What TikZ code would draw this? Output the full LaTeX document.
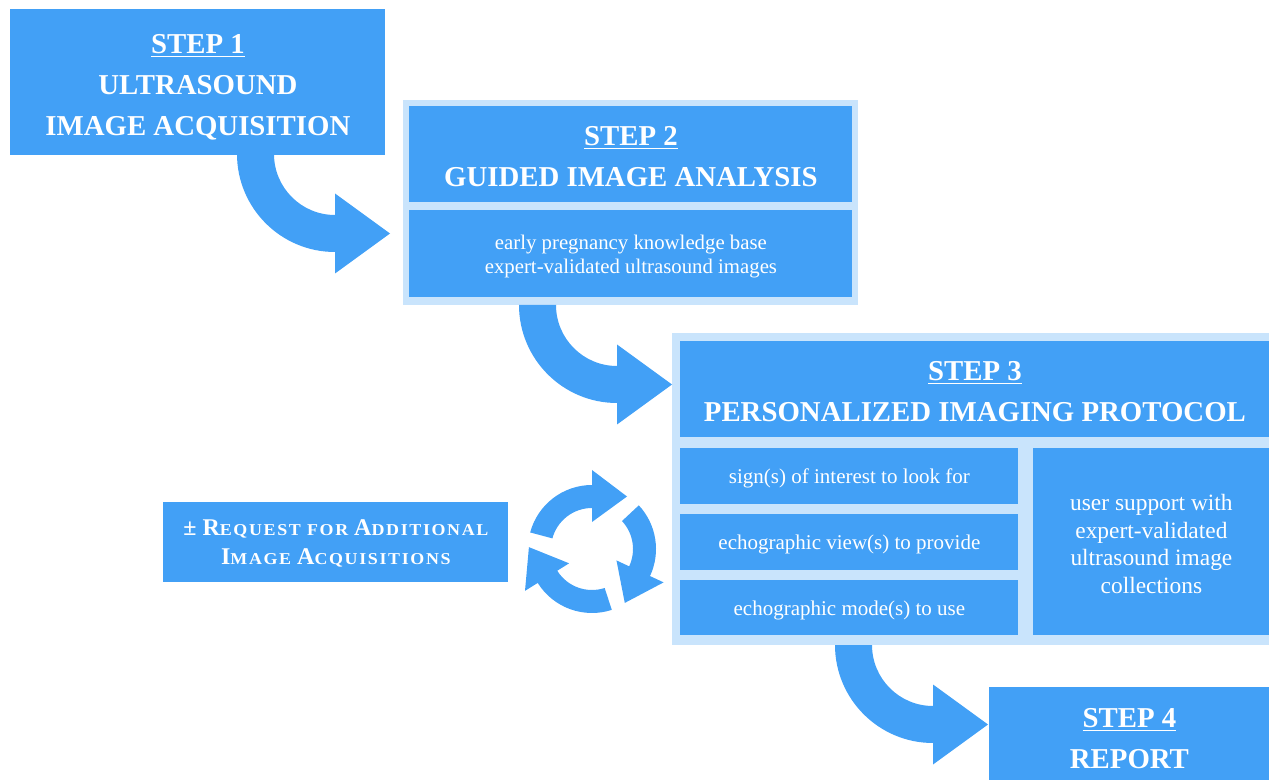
\documentclass[tikz,border=0pt]{standalone}
\usepackage{fontspec}
\setmainfont{Liberation Serif}
\newfontfamily\scfam{Liberation Serif}[LetterSpace=10,FakeStretch=1.08]
\usetikzlibrary{calc}
\definecolor{mblue}{RGB}{66,160,246}
\definecolor{lblue}{RGB}{201,228,252}
\newcommand\ttlfont{\fontsize{14.4}{20.5}\selectfont\bfseries}
\newcommand\bodyfont{\fontsize{10.4}{12}\selectfont}
\newcommand\rowfont{\fontsize{10.5}{13}\selectfont}
\newcommand\sidefont{\fontsize{11.7}{13.75}\selectfont}
\newcommand\reqfont{\fontsize{12}{14.5}\selectfont\bfseries}
\newcommand\smc[1]{{\scfam\bfseries\fontsize{8.3}{14.5}\selectfont #1}}
\newcommand\firstline[1]{\rule{0pt}{#1}}
\newcommand\bigcurve[1]{%
  \fill[mblue] ($(#1)+(-49pt,0)$) arc[start angle=180,end angle=270,radius=49pt]
    -- ($(#1)+(0,-59.75pt)$) -- ($(#1)+(27.5pt,-39.75pt)$) -- ($(#1)+(0,-19.75pt)$)
    -- ($(#1)+(0,-30.5pt)$) arc[start angle=270,end angle=180,radius=30.5pt] -- cycle;}
\newcommand\cyclearrow[2]{%
  \fill[mblue] ($(cyc)+(#1:32pt)$) arc[start angle=#1,end angle=#2,radius=32pt]
    -- ($(cyc)+(#2:39.5pt)$) -- ($(cyc)+(#2:26.25pt)+({#2-90}:17.5pt)$)
    -- ($(cyc)+(#2:13.5pt)$) -- ($(cyc)+(#2:20.5pt)$)
    arc[start angle=#2,end angle=#1,radius=20.5pt] -- cycle;}
\tikzset{
  box/.style={fill=mblue, inner sep=0pt, text=white, align=center, anchor=north west, text depth=0pt},
  frame/.style={fill=lblue, inner sep=0pt, anchor=north west},
}
\begin{document}
\begin{tikzpicture}[x=0.5pt,y=-0.5pt]
\useasboundingbox (0,0) rectangle (1269,780);
% step 1
\node[box, minimum width=187.5pt, minimum height=73pt, font=\ttlfont] (s1) at (10,9)
  {\firstline{12pt}\underline{STEP 1}\\ULTRASOUND\\IMAGE ACQUISITION};
% step 2
\node[frame, minimum width=227.5pt, minimum height=102.5pt] (s2f) at (403,100) {};
\node[box, minimum width=221.5pt, minimum height=48pt, font=\ttlfont] (s2h) at (409,106)
  {\firstline{11.7pt}\underline{STEP 2}\\GUIDED IMAGE ANALYSIS};
\node[box, minimum width=221.5pt, minimum height=43.5pt, font=\bodyfont] (s2b) at (409,210)
  {early pregnancy knowledge base\\expert-validated ultrasound images};
% step 3
\node[frame, minimum width=298.5pt, minimum height=156pt] (s3f) at (672,333) {};
\node[box, minimum width=294.5pt, minimum height=48pt, font=\ttlfont] (s3h) at (680,341)
  {\firstline{11.7pt}\underline{STEP 3}\\PERSONALIZED IMAGING PROTOCOL};
\node[box, minimum width=169pt, minimum height=28pt, font=\rowfont] (r1) at (680,448)
  {sign(s) of interest to look for};
\node[box, minimum width=169pt, minimum height=28pt, font=\rowfont] (r2) at (680,514)
  {echographic view(s) to provide};
\node[box, minimum width=169pt, minimum height=27.5pt, font=\rowfont] (r3) at (680,580)
  {echographic mode(s) to use};
\node[box, minimum width=118pt, minimum height=93.5pt, font=\sidefont] (side) at (1033,448)
  {\firstline{10.2pt}user support with\\expert-validated\\ultrasound image\\collections};
% step 4
\node[box, minimum width=140pt, minimum height=46.5pt, font=\ttlfont] (s4) at (989,687)
  {\firstline{14pt}\underline{STEP 4}\\REPORT};
% request
\node[box, minimum width=172.5pt, minimum height=40pt, font=\reqfont] (req) at (163,502)
  {± R\smc{EQUEST FOR} A\smc{DDITIONAL}\\I\smc{MAGE} A\smc{CQUISITIONS}};
% curved arrows
\coordinate (c1) at (335,154);
\coordinate (c2) at (617,305);
\coordinate (c3) at (933,645);
\bigcurve{c1}
\bigcurve{c2}
\bigcurve{c3}
% cycle icon
\coordinate (cyc) at (592,549);
\cyclearrow{165}{90}
\cyclearrow{43}{-25}
\cyclearrow{-72}{-148}
\end{tikzpicture}
\end{document}
